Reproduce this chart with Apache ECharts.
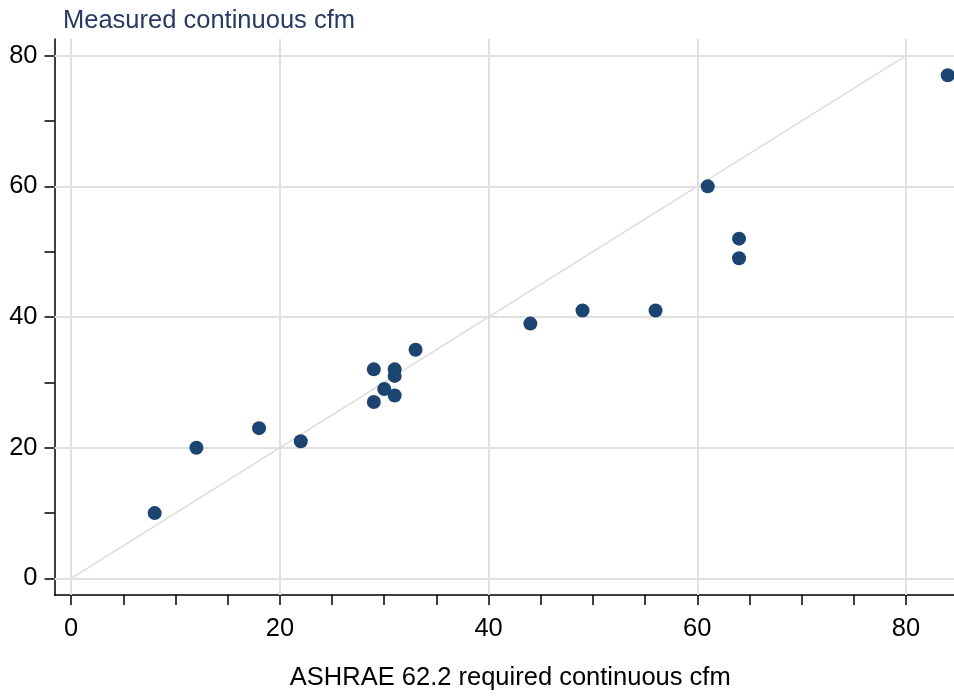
<!DOCTYPE html>
<html><head><meta charset="utf-8">
<script src="https://cdn.jsdelivr.net/npm/echarts@6/dist/echarts.min.js"></script>
<style>html,body{margin:0;padding:0;background:#fff}#c{width:954px;height:696px}</style>
</head><body><div id="c"></div>
<script>
const xValues = [8, 12, 18, 22, 29, 29, 30, 31, 31, 31, 33, 44, 49, 56, 61, 64, 64, 84];
const yValues = [10, 20, 23, 21, 32, 27, 29, 32, 31, 28, 35, 39, 41, 41, 60, 52, 49, 77];
const xTickLabels = [0, 20, 40, 60, 80];
const xMinorTicks = [0, 5, 10, 15, 20, 25, 30, 35, 40, 45, 50, 55, 60, 65, 70, 75, 80];
const yTickLabels = [0, 20, 40, 60, 80];
const yMinorTicks = [0, 10, 20, 30, 40, 50, 60, 70, 80];
const refLine = [[0, 0], [80, 80]];
const yTitle = 'Measured continuous cfm';
const xTitle = 'ASHRAE 62.2 required continuous cfm';

const FONT = '"Liberation Sans", Arial, sans-serif';
const FS = 25.5;
const chart = echarts.init(document.getElementById('c'), null, {renderer: 'canvas'});
const gridMarks = [];
xTickLabels.forEach(v => gridMarks.push({xAxis: v}));
yTickLabels.forEach(v => gridMarks.push({yAxis: v}));

chart.setOption({
  animation: false,
  backgroundColor: '#fff',
  title: {
    text: yTitle, left: 58, top: 3,
    textStyle: {fontFamily: FONT, fontSize: FS, fontWeight: 'normal', color: '#283a63'}
  },
  grid: {left: 54.5, right: 0, top: 39, bottom: 98.7, containLabel: false},
  xAxis: {
    type: 'value', min: -1.6, max: 84.6,
    name: xTitle, nameLocation: 'middle', nameGap: 70,
    nameTextStyle: {fontFamily: FONT, fontSize: FS, color: '#000', padding: [0, 0, 0, 12]},
    axisLine: {show: true, onZero: false, lineStyle: {color: '#000', width: 1.5}},
    axisTick: {show: true, customValues: xMinorTicks, length: 10, lineStyle: {color: '#000', width: 1.5}},
    axisLabel: {customValues: xTickLabels, fontFamily: FONT, fontSize: FS, color: '#000', margin: 21},
    splitLine: {show: false}
  },
  yAxis: {
    type: 'value', min: -2.53, max: 82.55,
    axisLine: {show: true, onZero: false, lineStyle: {color: '#000', width: 1.5}},
    axisTick: {show: true, customValues: yMinorTicks, length: 10, lineStyle: {color: '#000', width: 1.5}},
    axisLabel: {customValues: yTickLabels, fontFamily: FONT, fontSize: FS, color: '#000', margin: 17},
    splitLine: {show: false}
  },
  series: [
    {
      type: 'line', data: refLine, symbol: 'none', silent: true, z: 2,
      lineStyle: {color: '#dcdcdc', width: 1.5},
      markLine: {
        silent: true, symbol: 'none', label: {show: false},
        lineStyle: {color: '#e0e0e0', width: 2, type: 'solid'},
        data: gridMarks
      }
    },
    {
      type: 'scatter', z: 5,
      data: xValues.map((x, i) => [x, yValues[i]]),
      symbol: 'circle', symbolSize: 14,
      itemStyle: {color: '#1b4470', opacity: 1}
    }
  ]
});
</script></body></html>
